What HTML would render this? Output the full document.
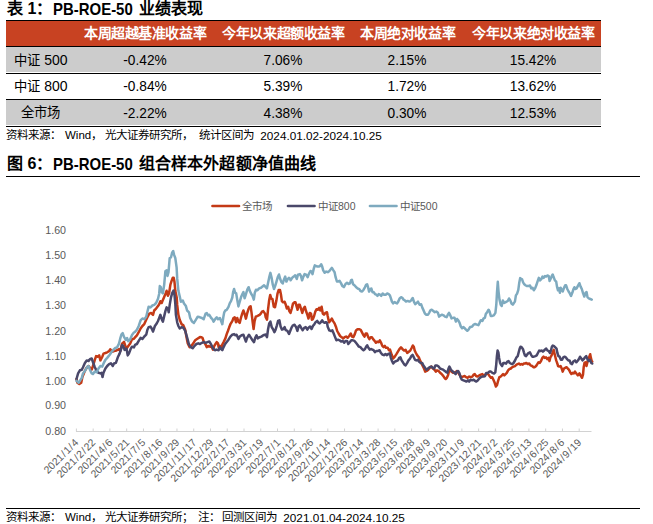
<!DOCTYPE html>
<html lang="zh-CN">
<head>
<meta charset="utf-8">
<title>PB-ROE-50</title>
<style>
html,body{margin:0;padding:0;background:#fff;}
body{width:653px;height:524px;overflow:hidden;position:relative;font-family:"Liberation Sans",sans-serif;color:#000;}
.a{position:absolute;white-space:nowrap;}
.t{font-weight:bold;font-size:16px;line-height:20px;height:20px;}
.lt{font-size:16.4px;transform-origin:0 50%;transform:scaleX(0.912);}
.hl{position:absolute;background:#000;height:1px;}
.hd{position:absolute;top:21px;height:25px;line-height:25px;font-weight:bold;font-size:14px;letter-spacing:-0.42px;color:#fff;text-align:center;white-space:nowrap;}
.c{position:absolute;height:26px;line-height:26px;font-size:13.33px;text-align:center;white-space:nowrap;}
.n{font-size:14.2px;transform:translateY(-0.5px) scaleX(0.965);}
.d{font-size:14px;}
.src{font-size:11.5px;line-height:15px;height:15px;}
.yl{position:absolute;left:40px;width:26px;text-align:right;font-size:10.67px;line-height:12px;height:12px;color:#595959;}
.lg{position:absolute;top:199px;font-size:10.5px;line-height:14px;height:14px;color:#595959;white-space:nowrap;}
.xl i{font-style:normal;padding:0 0.9px;}
.xl{position:absolute;top:435px;width:70px;text-align:right;font-size:10.4px;line-height:12px;height:12px;color:#595959;transform-origin:100% 50%;transform:rotate(-45deg);white-space:nowrap;}
</style>
</head>
<body>
<!-- Title 1 -->
<div class="a t" style="left:7px;top:-1px;">表 1：</div>
<div class="a t lt" style="left:53px;top:-1px;">PB-ROE-50</div>
<div class="a t" style="left:138.5px;top:-1px;letter-spacing:0.2px;">业绩表现</div>

<!-- Table -->
<div class="hl" style="left:6px;top:20px;width:595px;"></div>
<div class="a" style="left:6px;top:21px;width:595px;height:25px;background:#c84222;"></div>
<div class="hl" style="left:6px;top:46px;width:595px;"></div>
<div class="a" style="left:6px;top:47px;width:595px;height:25px;background:#cccccc;"></div>
<div class="hl" style="left:6px;top:73px;width:595px;"></div>
<div class="hl" style="left:6px;top:99px;width:595px;"></div>
<div class="a" style="left:6px;top:100px;width:595px;height:25px;background:#cccccc;"></div>
<div class="hl" style="left:6px;top:126px;width:595px;"></div>

<div class="hd" style="left:75.1px;width:140px;">本周超越基准收益率</div>
<div class="hd" style="left:213.4px;width:140px;">今年以来超额收益率</div>
<div class="hd" style="left:337.7px;width:140px;">本周绝对收益率</div>
<div class="hd" style="left:463.4px;width:140px;">今年以来绝对收益率</div>

<div class="c" style="left:6px;width:70px;top:47px;">中证 <span class="d">500</span></div>
<div class="c n" style="left:74.5px;width:140px;top:47px;">-0.42%</div>
<div class="c n" style="left:213.2px;width:140px;top:47px;">7.06%</div>
<div class="c n" style="left:336.5px;width:140px;top:47px;">2.15%</div>
<div class="c n" style="left:462.6px;width:140px;top:47px;">15.42%</div>

<div class="c" style="left:6px;width:70px;top:73px;">中证 <span class="d">800</span></div>
<div class="c n" style="left:74.5px;width:140px;top:73px;">-0.84%</div>
<div class="c n" style="left:213.2px;width:140px;top:73px;">5.39%</div>
<div class="c n" style="left:336.5px;width:140px;top:73px;">1.72%</div>
<div class="c n" style="left:462.6px;width:140px;top:73px;">13.62%</div>

<div class="c" style="left:5px;width:70px;top:100px;">全市场</div>
<div class="c n" style="left:74.5px;width:140px;top:100px;">-2.22%</div>
<div class="c n" style="left:213.2px;width:140px;top:100px;">4.38%</div>
<div class="c n" style="left:336.5px;width:140px;top:100px;">0.30%</div>
<div class="c n" style="left:462.6px;width:140px;top:100px;">12.53%</div>

<div class="a src" style="left:6px;top:128px;">资料来源：</div>
<div class="a src" style="left:65px;top:128px;">Wind，</div>
<div class="a src" style="left:104.5px;top:128px;">光大证券研究所，</div>
<div class="a src" style="left:199px;top:128px;">统计区间为</div>
<div class="a src" style="left:260.3px;top:128px;font-size:11.75px;">2024.01.02-2024.10.25</div>

<!-- Title 2 -->
<div class="a t" style="left:7px;top:154px;">图 6：</div>
<div class="a t lt" style="left:53px;top:154px;">PB-ROE-50</div>
<div class="a t" style="left:138.5px;top:154px;letter-spacing:0.2px;">组合样本外超额净值曲线</div>
<div class="hl" style="left:6px;top:176px;width:634px;"></div>

<!-- Legend -->
<div class="lg" style="left:242px;">全市场</div>
<div class="lg" style="left:318px;">中证800</div>
<div class="lg" style="left:400px;">中证500</div>

<!-- Y labels -->
<div class="yl" style="top:223.5px;">1.60</div>
<div class="yl" style="top:249.4px;">1.50</div>
<div class="yl" style="top:273.9px;">1.40</div>
<div class="yl" style="top:299.2px;">1.30</div>
<div class="yl" style="top:324.5px;">1.20</div>
<div class="yl" style="top:349.9px;">1.10</div>
<div class="yl" style="top:374.6px;">1.00</div>
<div class="yl" style="top:399.1px;">0.90</div>
<div class="yl" style="top:425.1px;">0.80</div>

<!-- Chart SVG -->
<svg class="a" style="left:0;top:0;" width="653" height="524" viewBox="0 0 653 524">
<g id="axis" stroke="#d2d2d2" stroke-width="1" fill="none">
<path d="M76 431.5H591.5"/>
<path d="M76.40 431.5V428.5M93.16 431.5V428.5M109.92 431.5V428.5M126.68 431.5V428.5M143.44 431.5V428.5M160.20 431.5V428.5M176.96 431.5V428.5M193.72 431.5V428.5M210.48 431.5V428.5M227.24 431.5V428.5M244.00 431.5V428.5M260.76 431.5V428.5M277.52 431.5V428.5M294.28 431.5V428.5M311.04 431.5V428.5M327.80 431.5V428.5M344.56 431.5V428.5M361.32 431.5V428.5M378.08 431.5V428.5M394.84 431.5V428.5M411.60 431.5V428.5M428.36 431.5V428.5M445.12 431.5V428.5M461.88 431.5V428.5M478.64 431.5V428.5M495.40 431.5V428.5M512.16 431.5V428.5M528.92 431.5V428.5M545.68 431.5V428.5M562.44 431.5V428.5M579.20 431.5V428.5"/>
</g>
<g id="lines" fill="none" stroke-width="2.5" stroke-linejoin="round" stroke-linecap="round">
<path stroke="#c43a16" d="M76.5 379.0 77.4 382.7 79.3 384.0 81.2 382.7 82.4 377.1 84.3 372.2 86.1 368.5 88.6 366.0 90.5 368.5 91.7 369.7 93.0 366.0 94.8 359.8 96.1 356.1 97.9 356.7 99.2 355.4 100.4 360.4 102.3 356.7 103.5 353.6 105.4 353.0 107.2 352.3 109.1 351.1 110.3 349.2 112.2 351.7 114.0 351.1 116.5 350.5 119.0 349.2 120.2 351.1 122.1 343.6 124.0 341.8 125.2 345.5 126.5 348.6 128.3 346.1 130.2 343.6 132.0 339.3 133.9 338.7 135.0 337.4 136.9 335.3 138.7 332.2 140.6 328.5 142.4 326.0 144.3 324.1 146.2 319.8 147.4 317.3 149.3 313.6 151.1 313.0 153.0 314.8 154.2 310.5 156.1 308.6 158.0 306.1 159.2 304.3 160.4 301.2 161.7 303.0 162.9 299.9 164.8 295.6 166.0 292.5 166.6 290.8 167.9 295.8 169.1 293.3 170.4 284.6 171.6 280.9 172.8 277.8 173.7 277.8 174.5 282.1 175.3 290.8 176.7 297.4 177.2 304.9 178.4 314.8 179.7 319.8 181.5 324.1 183.4 325.4 185.2 329.7 186.5 337.1 187.7 343.3 189.6 347.1 191.5 345.8 193.3 343.3 195.2 340.2 197.0 339.0 200.0 337.1 201.2 337.2 202.5 337.8 203.7 341.5 205.6 344.6 206.8 347.1 208.1 345.9 209.9 346.5 211.8 347.1 213.0 349.6 214.3 345.9 215.5 344.0 216.7 342.1 218.0 343.4 218.6 347.1 219.9 345.9 221.1 348.3 222.3 344.6 223.6 342.1 225.4 338.4 226.7 334.1 227.9 331.0 229.2 327.3 230.4 324.2 232.3 321.1 233.5 318.0 234.7 317.3 236.0 322.3 237.2 318.0 238.5 321.7 239.7 322.9 240.9 318.0 242.2 313.6 243.4 310.5 244.7 314.2 245.9 318.6 247.1 313.6 248.4 309.3 249.6 306.8 250.6 306.2 251.5 312.4 252.7 322.3 253.6 329.1 254.6 321.1 255.8 316.7 257.1 316.1 258.3 315.5 259.6 314.9 260.8 313.6 262.0 311.7 263.3 311.1 265.0 313.6 265.7 317.2 267.0 319.7 268.0 309.8 269.2 299.9 270.2 294.9 271.3 298.6 272.5 299.2 273.8 306.7 275.0 307.3 276.3 301.1 277.5 293.6 278.7 289.9 280.0 289.9 280.9 294.3 281.9 301.1 283.1 302.3 284.6 301.7 285.8 304.8 286.8 308.5 288.1 306.7 289.3 311.0 290.5 312.9 291.8 308.5 293.0 303.6 294.3 302.3 295.5 302.3 296.7 306.7 297.6 309.8 298.6 304.8 299.8 304.8 301.1 309.2 302.3 312.9 303.6 308.5 304.8 306.7 306.0 311.0 307.3 314.7 308.5 318.5 309.8 312.9 311.0 313.5 311.9 319.7 312.9 319.1 314.1 316.0 315.3 311.6 316.6 309.2 317.8 309.8 319.1 307.9 320.3 310.4 321.6 306.7 322.8 313.5 324.0 314.7 325.3 312.9 327.0 312.3 327.7 316.1 329.0 322.3 330.6 320.5 331.8 318.6 333.1 321.1 334.7 323.6 335.9 326.7 337.2 331.0 338.6 333.5 340.1 336.0 341.7 337.2 343.4 338.5 344.6 337.2 346.1 336.6 347.6 337.8 349.2 336.0 350.8 333.5 352.0 336.6 353.3 337.2 354.8 334.1 356.0 330.4 357.5 329.2 359.1 329.2 360.7 329.8 362.0 332.3 363.2 334.7 364.5 336.6 365.7 333.5 366.9 333.5 368.2 337.2 369.4 339.1 370.7 337.2 371.9 337.2 373.1 339.1 374.6 340.9 375.9 342.8 377.1 341.6 378.6 342.2 379.8 340.3 381.1 342.8 382.3 345.9 383.6 347.1 384.8 345.9 386.0 347.8 387.7 347.8 388.9 350.2 390.0 349.6 390.5 351.1 391.7 354.8 393.2 358.5 394.8 356.7 396.4 354.2 397.9 351.7 399.4 349.2 401.0 347.4 402.6 349.2 404.1 350.5 405.6 349.9 407.2 353.0 408.8 351.7 410.3 350.5 411.6 348.0 412.8 345.5 413.8 346.7 414.7 350.5 415.9 353.0 417.2 355.4 418.8 357.3 420.0 360.4 421.3 362.9 422.5 365.4 424.0 368.5 425.2 371.6 426.7 370.9 428.3 369.7 429.9 367.8 431.4 366.6 432.9 368.5 434.5 369.7 435.8 371.6 437.0 370.3 438.6 370.9 440.1 372.8 441.6 374.0 443.2 375.9 444.5 377.8 445.7 379.0 446.9 377.8 448.2 374.7 449.0 370.9 450.0 369.7 451.3 371.6 453.0 372.8 454.3 372.3 455.6 372.9 456.8 371.0 458.4 372.9 459.9 375.4 461.4 377.2 463.0 376.6 464.6 376.0 466.1 377.2 467.6 377.8 469.2 376.6 470.8 377.2 472.3 376.6 473.6 374.7 474.8 374.1 476.1 376.0 477.5 376.6 479.2 375.4 480.8 374.7 482.3 374.1 483.7 375.4 485.4 374.7 487.0 373.5 488.2 374.1 489.5 376.0 490.9 377.8 492.2 377.2 493.4 379.7 494.7 382.8 495.9 386.5 496.9 385.3 498.1 380.9 499.4 377.2 500.6 376.6 501.9 375.4 503.1 374.1 504.3 375.4 505.6 374.1 506.8 372.9 508.1 370.4 509.3 369.2 510.8 368.5 512.0 367.3 513.5 366.7 515.0 366.1 516.5 364.7 517.7 364.1 518.9 363.5 520.2 364.7 521.4 364.1 522.7 364.7 523.9 363.5 525.1 363.5 526.4 362.9 527.6 364.1 529.2 363.5 530.5 365.4 532.1 366.0 533.6 367.2 534.8 367.2 536.1 366.0 537.3 364.1 538.5 362.3 539.8 362.9 541.0 361.0 542.3 357.9 543.5 356.7 544.7 357.9 546.0 357.3 547.2 359.2 548.5 357.9 549.5 361.0 550.4 357.3 551.6 355.4 552.8 352.3 553.7 349.9 554.4 353.0 555.3 356.7 556.2 360.4 557.1 362.9 558.1 366.0 559.4 366.6 560.6 366.0 561.9 369.1 562.7 371.6 564.0 368.5 565.2 367.8 566.5 367.2 567.7 368.5 568.9 369.7 570.2 372.2 571.4 374.0 572.7 372.8 573.9 373.4 575.0 371.6 576.7 374.0 577.9 375.3 579.5 373.4 580.8 375.9 582.0 377.8 583.0 374.7 583.7 367.2 584.5 362.9 585.5 362.3 586.5 366.0 587.5 361.6 588.5 359.2 589.5 356.1 590.2 354.2 590.9 357.9 591.7 361.0 592.2 361.6"/>
<path stroke="#4a486a" d="M76.5 379.0 78.1 373.4 79.9 370.3 81.8 369.7 83.0 367.2 84.9 362.9 86.7 360.4 88.6 361.0 89.9 359.2 91.7 358.5 93.0 362.3 94.8 367.2 96.7 370.9 98.5 372.8 100.4 373.4 101.6 372.8 102.5 377.1 103.5 372.8 105.4 368.5 107.2 366.0 109.1 364.1 110.9 363.3 112.8 366.0 114.0 363.5 115.9 362.9 117.8 357.3 119.6 353.6 120.9 349.9 122.1 344.9 123.3 346.1 124.6 349.9 126.5 348.6 127.7 355.4 128.9 353.6 130.8 348.6 132.0 346.7 133.9 347.4 135.0 344.9 136.9 344.0 138.7 340.9 140.6 337.8 142.4 339.0 144.3 336.5 146.2 334.7 147.4 329.7 148.6 327.2 150.5 326.6 151.7 328.5 153.0 331.6 154.9 326.0 156.7 323.5 158.0 321.0 159.2 317.9 160.4 314.8 161.7 319.2 162.9 321.6 164.2 316.1 165.4 311.1 166.6 307.4 167.9 308.6 168.7 312.3 169.7 304.9 171.0 297.4 172.2 293.1 173.5 290.6 174.5 295.0 175.3 303.6 175.9 314.8 177.2 322.3 178.4 326.0 179.7 328.5 181.5 327.2 183.4 327.8 185.2 330.9 186.5 335.3 187.7 339.6 189.0 344.6 190.8 347.1 192.7 348.3 194.6 345.8 196.4 344.0 198.3 343.3 200.0 344.0 201.9 342.8 203.7 342.1 205.6 342.8 207.4 342.1 209.3 341.5 210.5 343.4 211.8 345.9 213.0 348.3 214.9 350.2 216.7 349.6 218.6 350.2 219.9 347.1 221.1 349.0 222.3 350.2 223.6 347.1 224.8 344.6 226.7 342.1 228.5 339.7 230.4 336.6 232.3 334.7 234.1 334.1 235.4 335.3 236.6 334.7 238.5 339.0 239.7 336.6 241.6 335.3 243.4 334.7 244.7 338.4 245.9 341.5 247.1 337.8 249.0 334.7 250.2 336.6 252.1 339.7 254.0 342.1 255.2 337.8 256.5 335.3 257.7 338.4 259.6 337.2 261.4 336.6 263.3 335.3 265.0 334.7 265.7 334.6 267.0 337.1 268.0 329.6 269.2 323.4 270.4 321.6 271.7 327.1 272.9 329.0 274.4 332.1 275.6 329.6 276.9 325.3 278.1 320.9 279.4 320.3 280.6 326.5 281.9 329.6 283.3 329.0 284.6 327.1 285.8 330.2 287.4 330.9 289.0 334.0 290.5 330.2 291.8 327.1 293.0 325.3 294.5 324.7 296.1 327.1 297.4 330.9 298.6 326.5 299.8 325.3 301.5 328.4 302.7 330.2 304.2 327.8 305.7 327.1 307.3 329.6 308.5 327.8 310.1 326.5 311.6 329.0 312.9 325.9 314.1 324.7 315.6 322.2 317.2 320.9 318.5 322.8 319.7 323.4 320.9 322.2 322.2 320.3 323.4 322.2 324.7 322.8 325.9 322.2 327.0 322.8 327.7 326.7 329.3 330.4 331.0 331.0 332.4 330.4 333.7 333.5 334.9 336.6 336.4 340.3 338.0 339.7 339.6 340.3 341.1 341.6 342.6 340.9 344.2 342.8 345.5 340.9 347.1 340.9 348.3 344.0 349.8 342.2 351.3 340.3 352.9 340.3 354.5 340.9 356.0 342.8 357.5 344.7 358.7 346.5 360.4 347.1 362.0 349.0 363.5 350.2 365.0 349.0 366.2 346.5 367.2 345.3 368.4 347.8 369.7 349.6 370.9 349.0 372.4 349.6 373.6 350.2 374.9 352.1 376.5 350.9 378.1 350.9 379.6 350.2 380.8 352.7 382.3 354.6 383.9 355.2 385.5 354.0 387.0 355.2 388.3 354.0 390.0 353.3 390.7 357.3 392.0 361.0 393.2 363.5 394.8 361.6 396.4 361.0 397.9 360.4 399.2 357.9 400.4 357.3 401.6 360.4 402.9 362.3 404.4 364.7 405.6 365.4 407.2 362.9 408.5 360.4 410.1 358.5 411.3 356.1 412.6 354.8 413.8 357.3 415.0 359.8 416.3 360.4 417.8 359.8 419.0 361.6 420.5 362.9 422.1 362.9 423.4 365.4 425.0 367.8 426.5 369.7 428.0 368.5 429.6 367.2 431.2 366.6 432.7 367.8 434.2 368.5 435.4 365.4 437.0 365.4 438.6 366.6 440.1 368.5 441.6 369.1 443.2 369.7 444.8 370.9 446.3 372.2 447.3 372.8 448.5 368.5 449.4 366.6 450.7 369.1 451.9 370.9 453.0 371.6 454.3 372.9 455.6 374.1 456.8 371.6 458.1 371.0 459.3 372.9 460.5 377.2 461.8 379.7 463.4 380.3 464.9 380.9 466.4 381.6 468.0 380.3 469.2 381.6 470.5 379.7 472.1 380.3 473.6 379.7 475.1 380.9 476.3 381.6 477.9 380.3 479.2 378.5 480.8 377.2 482.3 376.6 483.7 376.6 485.0 376.0 486.2 372.9 487.8 372.9 489.5 371.6 490.9 371.6 492.4 372.9 494.0 373.5 495.3 372.3 496.2 364.8 496.9 356.1 497.6 350.5 498.4 352.4 499.1 358.0 500.1 363.0 501.1 364.8 502.1 366.1 503.3 363.0 504.6 363.0 506.1 363.6 507.3 361.7 508.6 361.1 509.8 363.0 511.0 363.6 512.3 364.2 513.5 363.0 515.0 360.5 516.5 357.3 517.7 356.1 518.7 352.3 519.7 348.6 520.5 346.7 521.8 347.4 523.0 349.2 523.9 352.3 524.9 355.4 526.1 356.1 527.4 354.2 528.6 353.0 529.9 352.3 531.1 354.8 532.3 356.7 533.8 356.7 535.4 356.1 536.7 355.4 537.9 353.0 539.2 350.5 540.4 351.1 541.6 350.5 542.9 351.7 544.1 350.5 545.4 349.2 546.2 348.6 547.5 350.5 548.7 351.1 550.0 353.0 550.9 350.5 551.9 346.7 552.8 345.5 554.0 346.1 555.3 347.4 556.5 348.6 557.4 353.0 558.4 356.1 559.6 356.7 560.9 359.8 562.1 359.8 563.3 357.3 564.6 356.7 565.8 357.3 567.1 359.2 568.3 360.4 569.6 360.4 570.8 363.5 572.0 364.1 573.3 361.6 575.0 360.4 576.3 362.3 577.5 361.0 578.8 359.2 580.0 356.7 581.3 358.5 582.5 360.4 583.7 359.2 585.0 357.3 586.2 356.1 587.5 359.2 588.7 361.0 590.0 359.8 591.2 362.9 592.2 363.5"/>
<path stroke="#7eaabf" d="M76.5 380.9 78.7 382.7 81.8 377.8 83.0 373.4 84.9 370.9 87.4 366.6 88.6 366.0 89.9 369.7 91.7 373.4 93.0 374.0 94.8 371.6 96.7 372.2 98.5 368.5 100.4 366.0 102.3 366.6 104.1 362.3 105.4 359.8 107.2 357.9 109.7 354.8 112.2 351.1 114.0 349.2 115.3 348.0 117.1 347.4 119.0 343.6 120.2 338.7 121.5 334.3 122.7 333.1 124.0 336.8 125.8 339.9 127.1 338.1 128.3 341.2 130.2 339.3 132.0 335.0 133.9 332.5 135.0 331.9 136.9 329.7 138.7 326.0 140.6 320.4 142.4 318.5 144.3 319.2 146.2 316.7 147.4 311.7 148.6 306.7 150.5 307.4 152.4 305.5 154.2 304.9 156.1 303.0 158.0 298.7 159.2 293.7 159.8 286.1 160.8 287.1 161.7 292.1 162.9 293.3 164.2 284.6 165.4 271.0 166.6 270.4 167.5 275.9 168.5 272.2 169.7 258.0 171.0 257.3 172.2 252.4 173.2 251.1 174.1 254.9 175.3 258.0 176.6 267.3 177.2 278.4 178.4 290.8 179.7 296.2 180.9 301.8 182.8 300.5 184.0 303.6 185.9 306.1 187.1 310.5 189.0 312.3 190.2 317.9 192.1 321.6 193.9 322.9 195.8 319.8 197.7 316.7 200.0 317.3 201.9 318.0 203.7 319.2 205.6 313.6 206.8 313.0 208.1 315.5 209.3 314.9 211.2 318.0 212.4 319.2 213.6 321.7 215.5 318.6 216.7 317.3 218.0 319.2 219.9 318.0 221.1 321.1 222.3 324.2 223.3 317.3 224.2 312.4 225.4 310.5 226.7 309.9 228.5 306.8 229.8 303.1 231.0 301.2 232.3 297.5 233.1 292.1 234.1 289.0 235.2 292.8 236.2 293.4 237.2 299.6 238.4 306.4 239.6 302.1 241.1 297.1 242.4 294.0 243.4 292.1 244.6 298.3 245.8 294.6 247.3 289.7 248.6 287.2 249.8 290.9 251.3 294.0 252.5 295.9 253.8 299.6 254.8 292.8 256.0 289.7 257.5 290.3 259.1 288.4 261.0 287.8 262.5 286.6 264.1 285.3 265.3 286.6 266.9 288.4 268.2 282.2 269.4 276.6 270.4 272.9 271.5 277.3 272.8 284.7 274.0 289.0 275.2 285.9 276.5 281.6 277.7 277.3 279.0 274.5 280.2 279.1 281.5 282.2 282.7 283.5 283.9 279.7 285.2 276.6 286.4 281.6 287.7 279.1 288.9 277.9 290.0 278.5 290.6 280.3 292.2 277.8 293.7 276.6 295.2 275.3 296.8 279.0 298.0 274.7 299.9 274.1 300.9 275.9 302.1 280.3 303.4 276.6 304.6 274.1 306.1 274.7 307.6 277.2 308.8 274.1 310.4 271.0 311.7 271.6 312.5 274.1 313.8 268.5 314.8 265.4 316.0 266.0 317.5 266.6 318.7 266.6 320.0 266.0 321.2 264.2 322.2 266.6 323.2 270.4 324.7 272.8 326.2 271.6 327.8 272.2 329.4 271.0 330.9 269.1 331.9 267.9 333.4 270.4 334.6 272.2 335.6 277.2 336.9 281.5 338.1 281.5 339.6 280.9 341.1 283.4 342.3 285.9 343.9 287.1 345.5 284.0 347.0 282.8 348.5 284.0 350.0 283.4 351.0 280.4 351.9 279.8 353.1 284.2 354.7 285.4 356.2 287.3 357.7 288.5 359.3 289.1 360.5 291.0 362.1 291.6 363.6 289.7 364.9 287.3 366.1 284.8 367.1 284.2 368.1 287.3 369.1 291.6 370.1 289.7 371.3 288.5 372.5 292.2 373.8 292.2 375.0 294.1 376.3 294.7 377.5 295.9 378.7 294.1 380.0 294.7 381.2 295.9 382.7 293.5 384.1 294.7 385.7 294.7 387.2 293.5 388.7 294.1 389.9 295.3 390.9 298.4 391.9 301.5 393.1 303.4 394.6 302.1 395.9 302.8 397.1 303.4 398.3 301.5 399.6 298.4 401.1 297.2 402.3 297.8 403.6 299.7 404.8 300.3 406.0 301.5 407.7 300.9 408.9 301.5 410.0 301.5 411.5 299.8 412.7 298.0 413.9 301.7 415.2 304.2 416.8 302.9 418.0 301.7 419.6 304.8 421.1 304.2 422.4 307.9 423.6 310.4 424.9 313.5 426.3 314.7 428.0 314.7 429.2 312.8 430.4 310.4 431.7 309.7 433.3 311.0 434.8 312.2 436.3 311.6 437.9 312.8 439.1 316.6 440.7 315.3 442.0 314.7 443.5 315.3 445.0 316.6 446.6 317.2 447.8 314.7 449.0 312.8 450.3 315.3 451.5 318.4 453.1 317.8 454.6 317.8 455.9 321.5 457.1 319.0 458.3 320.3 459.6 322.8 460.8 326.5 462.1 328.3 463.3 327.1 464.8 328.3 466.0 329.6 467.3 330.8 468.5 329.6 470.0 327.1 470.6 327.1 472.2 326.5 473.7 324.6 475.2 324.0 476.8 324.6 478.4 325.2 479.6 322.7 480.9 320.2 482.4 320.9 483.6 318.4 484.9 317.8 485.8 314.0 487.1 312.2 488.6 309.7 489.6 311.6 490.8 315.9 492.3 315.9 493.8 315.3 495.4 312.8 496.3 304.7 497.0 292.3 497.8 281.8 498.5 291.1 499.5 299.8 500.7 304.7 501.7 306.0 502.8 300.4 504.1 302.9 505.3 302.3 506.6 301.6 507.8 301.0 509.0 298.5 510.3 300.4 511.5 303.5 512.8 304.7 514.0 302.9 514.9 301.6 515.9 295.4 517.1 293.6 518.3 289.9 519.3 282.4 520.2 278.1 521.1 278.7 522.1 279.3 523.1 282.4 524.3 284.3 525.8 285.5 527.0 286.1 528.5 286.1 530.0 285.5 531.3 288.4 532.6 287.8 533.8 290.3 535.1 288.4 536.3 285.3 537.5 281.6 538.8 277.9 540.0 280.4 541.3 279.1 542.5 276.6 543.7 277.9 545.0 276.0 546.2 276.6 547.5 275.4 548.7 276.0 549.6 281.0 550.8 278.5 551.8 276.0 552.7 274.5 553.7 277.3 554.9 280.4 556.2 281.6 557.0 286.6 558.0 290.3 559.0 288.4 559.9 292.8 560.7 287.8 561.7 289.7 562.7 291.5 564.0 287.8 565.2 285.3 566.1 285.3 567.3 289.0 568.6 291.5 569.8 293.4 571.0 295.9 572.3 292.8 573.5 289.0 574.4 287.2 575.6 289.0 576.6 288.4 577.9 285.9 579.4 283.2 580.6 286.6 581.8 289.0 583.1 293.4 584.3 296.5 585.6 292.8 586.6 292.1 587.5 297.1 588.8 298.3 590.3 299.0 591.8 299.6"/>
</g>
<g stroke-width="2.7" stroke-linecap="round">
<path d="M212.5 206H239" stroke="#c43a16"/>
<path d="M288 206H314.5" stroke="#4a486a"/>
<path d="M370 206H396.5" stroke="#7eaabf"/>
</g>
</svg>

<div id="xlabels">
<div class="xl" style="left:7.4px;top:435.0px;">2021<i>/</i>1<i>/</i>4</div>
<div class="xl" style="left:24.2px;top:435.0px;">2021<i>/</i>2<i>/</i>22</div>
<div class="xl" style="left:40.9px;top:435.0px;">2021<i>/</i>4<i>/</i>6</div>
<div class="xl" style="left:57.7px;top:435.0px;">2021<i>/</i>5<i>/</i>21</div>
<div class="xl" style="left:74.4px;top:435.0px;">2021<i>/</i>7<i>/</i>5</div>
<div class="xl" style="left:91.2px;top:435.0px;">2021<i>/</i>8<i>/</i>16</div>
<div class="xl" style="left:108.0px;top:435.0px;">2021<i>/</i>9<i>/</i>29</div>
<div class="xl" style="left:124.7px;top:435.0px;">2021<i>/</i>11<i>/</i>17</div>
<div class="xl" style="left:141.5px;top:435.0px;">2021<i>/</i>12<i>/</i>29</div>
<div class="xl" style="left:158.2px;top:435.0px;">2022<i>/</i>2<i>/</i>17</div>
<div class="xl" style="left:175.0px;top:435.0px;">2022<i>/</i>3<i>/</i>31</div>
<div class="xl" style="left:191.8px;top:435.0px;">2022<i>/</i>5<i>/</i>19</div>
<div class="xl" style="left:208.5px;top:435.0px;">2022<i>/</i>7<i>/</i>1</div>
<div class="xl" style="left:225.3px;top:435.0px;">2022<i>/</i>8<i>/</i>12</div>
<div class="xl" style="left:242.0px;top:435.0px;">2022<i>/</i>9<i>/</i>26</div>
<div class="xl" style="left:258.8px;top:435.0px;">2022<i>/</i>11<i>/</i>14</div>
<div class="xl" style="left:275.6px;top:435.0px;">2022<i>/</i>12<i>/</i>26</div>
<div class="xl" style="left:292.3px;top:435.0px;">2023<i>/</i>2<i>/</i>14</div>
<div class="xl" style="left:309.1px;top:435.0px;">2023<i>/</i>3<i>/</i>28</div>
<div class="xl" style="left:325.8px;top:435.0px;">2023<i>/</i>5<i>/</i>15</div>
<div class="xl" style="left:342.6px;top:435.0px;">2023<i>/</i>6<i>/</i>28</div>
<div class="xl" style="left:359.4px;top:435.0px;">2023<i>/</i>8<i>/</i>9</div>
<div class="xl" style="left:376.1px;top:435.0px;">2023<i>/</i>9<i>/</i>20</div>
<div class="xl" style="left:392.9px;top:435.0px;">2023<i>/</i>11<i>/</i>9</div>
<div class="xl" style="left:409.6px;top:435.0px;">2023<i>/</i>12<i>/</i>21</div>
<div class="xl" style="left:426.4px;top:435.0px;">2024<i>/</i>2<i>/</i>2</div>
<div class="xl" style="left:443.2px;top:435.0px;">2024<i>/</i>3<i>/</i>25</div>
<div class="xl" style="left:459.9px;top:435.0px;">2024<i>/</i>5<i>/</i>13</div>
<div class="xl" style="left:476.7px;top:435.0px;">2024<i>/</i>6<i>/</i>25</div>
<div class="xl" style="left:493.4px;top:435.0px;">2024<i>/</i>8<i>/</i>6</div>
<div class="xl" style="left:510.2px;top:435.0px;">2024<i>/</i>9<i>/</i>19</div>
</div><!--xe-->

<div class="hl" style="left:6px;top:508px;width:634px;"></div>
<div class="a src" style="left:6px;top:510px;">资料来源：</div>
<div class="a src" style="left:65px;top:510px;">Wind，</div>
<div class="a src" style="left:104.5px;top:510px;">光大证券研究所；</div>
<div class="a src" style="left:197.5px;top:510px;">注：</div>
<div class="a src" style="left:222px;top:510px;">回测区间为</div>
<div class="a src" style="left:283.3px;top:510px;font-size:11.75px;">2021.01.04-2024.10.25</div>
</body>
</html>
